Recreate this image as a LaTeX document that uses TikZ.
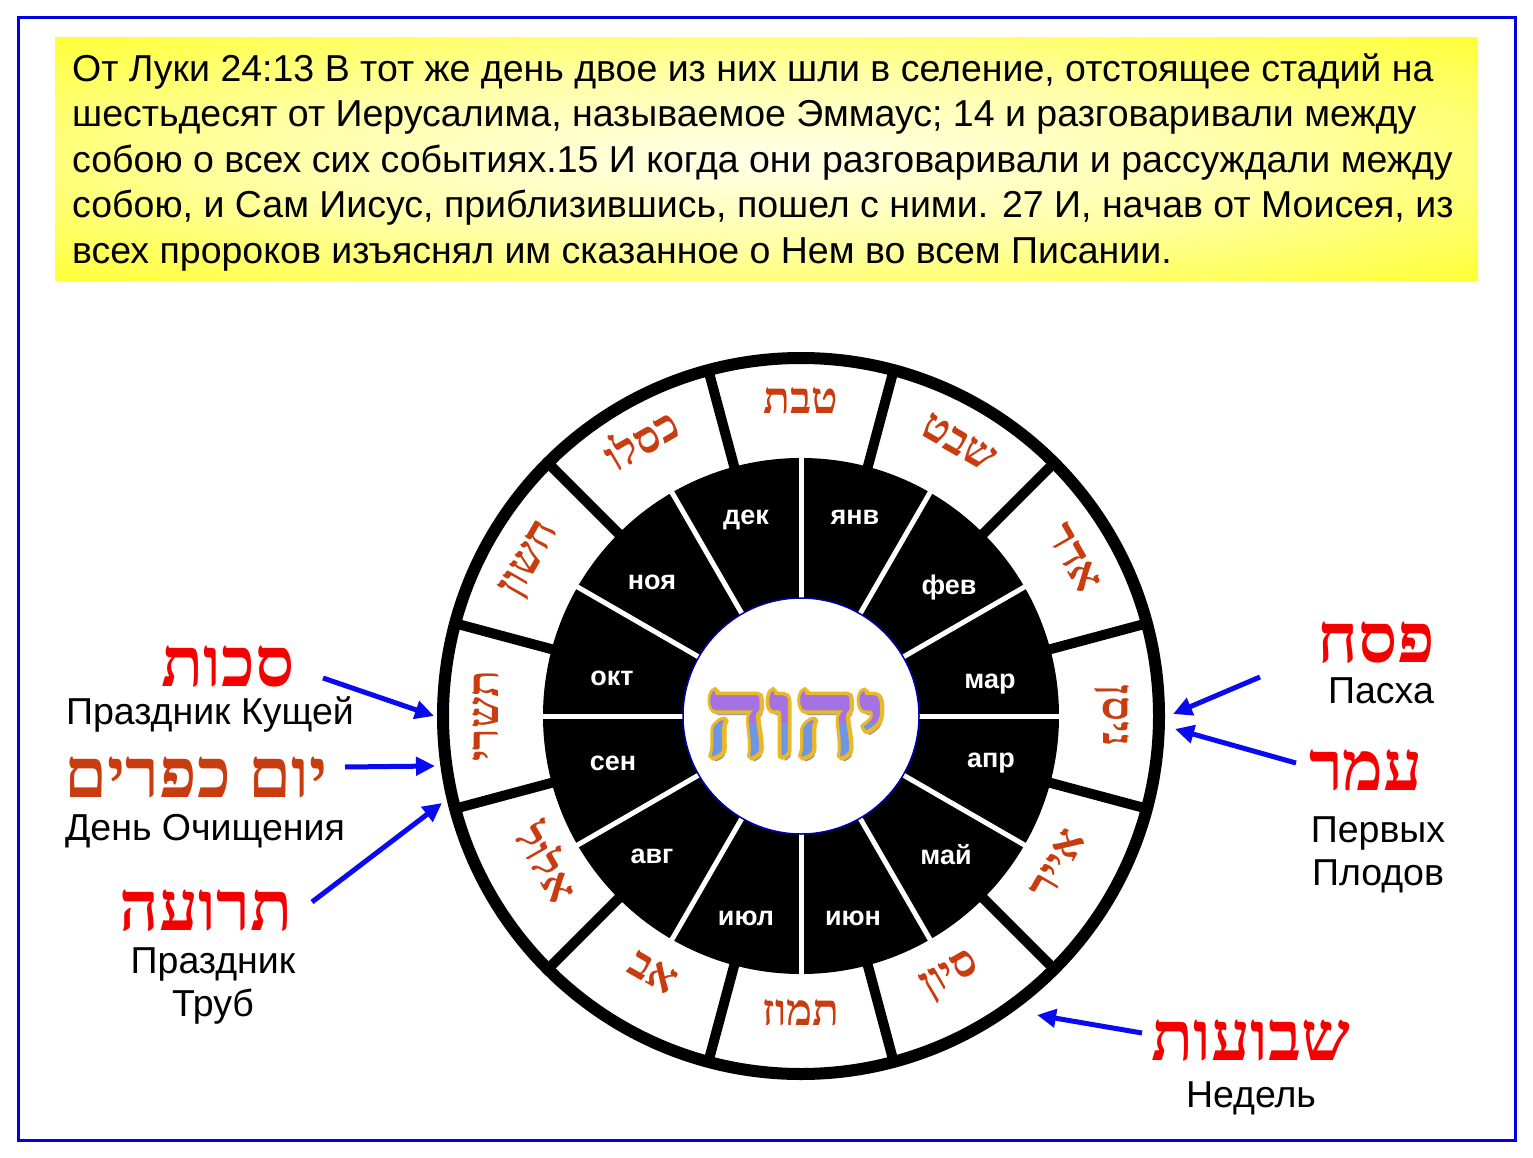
\documentclass[tikz,border=0pt]{standalone}
\usepackage{fontspec}
\setmainfont{Liberation Sans}
\newfontfamily\hebfont[Script=Hebrew]{Liberation Serif}
\newfontfamily\hebfontfat[Script=Hebrew,FakeBold=7]{Liberation Serif}
\usetikzlibrary{arrows.meta}
\TeXXeTstate=1
\definecolor{hebbrown}{RGB}{200,60,15}
\definecolor{hebred}{RGB}{245,0,0}
\definecolor{frameblue}{RGB}{0,0,230}
\definecolor{arrowblue}{RGB}{10,10,240}
\definecolor{goldc}{RGB}{235,185,40}
\definecolor{yhblue}{RGB}{110,150,230}
\definecolor{yhpurple}{RGB}{165,115,225}
\pgfdeclareradialshading{yellowglow}{\pgfpoint{0bp}{0bp}}{color(0bp)=(yellow!8);color(18bp)=(yellow!35);color(44bp)=(yellow);color(55bp)=(yellow)}
\newcommand{\hb}[1]{{\hebfont\bfseries\beginR #1\endR}}
\newcommand{\yhwhtext}{{\hebfont\bfseries\fontsize{108}{108}\selectfont\beginR יהוה\endR}}
\newcommand{\yhwhfat}{{\hebfontfat\bfseries\fontsize{108}{108}\selectfont\beginR יהוה\endR}}
\begin{document}
\begin{tikzpicture}[x=1pt,y=-1pt,
  headline/.style={anchor=base west,inner sep=0pt,font=\fontsize{37.5}{44}\selectfont},
  ruslabel/.style={anchor=base,inner sep=0pt,font=\fontsize{37.5}{44}\selectfont},
  heblabel/.style={anchor=base,inner sep=0pt,font=\fontsize{69}{69}\selectfont,text=hebred},
  monthlabel/.style={text=white,font=\bfseries\fontsize{27}{27}\selectfont,inner sep=0pt,text height=0.52em,text depth=0pt},
  hebmonth/.style={text=hebbrown,font=\fontsize{44}{44}\selectfont,inner sep=0pt,text height=0.62em,text depth=0pt},
  feastarrow/.style={arrowblue,line width=5pt,-{Triangle[length=19pt,width=18pt]}},
  yh/.style={inner sep=0pt}]
\useasboundingbox (0,0) rectangle (1533,1158);
\fill[white] (0,0) rectangle (1533,1158);
\draw[frameblue,line width=3pt] (18,18) rectangle (1515,1140);
\shade[shading=yellowglow] (55,38) rectangle (1478,280);
\node[headline] (l1) at (72,82) {От Луки 24:13 В тот же день двое из них шли в селение, отстоящее стадий на};
\node[headline] (l2) at (72,127) {шестьдесят от Иерусалима, называемое Эммаус; 14 и разговаривали между};
\node[headline] (l3) at (72,173) {собою о всех сих событиях.15 И когда они разговаривали и рассуждали между};
\node[headline] (l4) at (72,218) {собою, и Сам Иисус, приблизившись, пошел с ними. 27 И, начав от Моисея, из};
\node[headline] (l5) at (72,263) {всех пророков изъяснял им сказанное о Нем во всем Писании.};

\begin{scope}[shift={(801,716)},y=1pt]
  \fill[white] (0,0) circle (364);
  \draw[line width=12pt] (0,0) circle (358);
  \fill[black] (0,0) circle (258);
  \foreach \a in {0,30,...,330} \draw[white,line width=5pt] (\a:112) -- (\a:262);
  \draw[fill=white,draw=blue!70!black,line width=1.5pt] (0,0) circle (118);
  \foreach \a in {15,45,...,345} \draw[line width=10pt] (\a:254) -- (\a:356);
  % Hebrew months (upper half)
  \foreach \a/\m [count=\i] in {90/טבת,60/שבט,30/אדר,0/ניסן,180/תשרי,150/חשון,120/כסלו}
    \node[hebmonth,rotate=\a-90] (hu\i) at (\a:306) {\hb{\m}};
  % Hebrew months (lower half)
  \foreach \a/\m [count=\i] in {-30/אייר,-60/סיון,-90/תמוז,-120/אב,-150/אלול}
    \node[hebmonth,rotate=\a+90] (hl\i) at (\a:306) {\hb{\m}};
  % centre name
  \node[yh,text=black!40] (yshadow) at (-2,-13) {\yhwhtext};
  \node[yh,text=goldc] (youtline) at (-5,-8) {\yhwhfat};
  \node[yh,text=yhblue] (ymain) at (-5,-8) {\yhwhtext};
  \begin{scope}
    \clip (-120,-6) rectangle (120,60);
    \node[yh,text=yhpurple] (ytop) at (-5,-8) {\yhwhtext};
  \end{scope}
\end{scope}

% Russian months
\foreach \x/\y/\m [count=\i] in {855/522/янв,949/592/фев,990/686/мар,991/765/апр,946/862/май,853/923/июн,746/923/июл,652/861/авг,613/768/сен,612/683/окт,652/587/ноя,746/522/дек}
  \node[monthlabel] (m\i) at (\x,\y) {\m};

% left feasts
\node[heblabel] (sukkot) at (228,686) {\hb{סכות}};
\node[ruslabel] (sukkotr) at (210,724) {Праздник Кущей};
\node[heblabel,text=hebbrown] (kippur) at (196,797) {\hb{יום כפרים}};
\node[ruslabel] (kippurr) at (205,840) {День Очищения};
\node[heblabel] (teruah) at (206,930) {\hb{תרועה}};
\node[ruslabel] (teruahr1) at (213,973) {Праздник};
\node[ruslabel] (teruahr2) at (213,1016) {Труб};
% right feasts
\node[heblabel] (pesach) at (1376,662) {\hb{פסח}};
\node[ruslabel] (pesachr) at (1381,703) {Пасха};
\node[heblabel] (omer) at (1366,790) {\hb{עמר}};
\node[ruslabel] (omerr1) at (1378,842) {Первых};
\node[ruslabel] (omerr2) at (1378,885) {Плодов};
\node[heblabel] (shavuot) at (1251,1060) {\hb{שבועות}};
\node[ruslabel] (shavuotr) at (1251,1107) {Недель};

% arrows
\coordinate (a1s) at (323,678); \coordinate (a1e) at (434,716);
\coordinate (a2s) at (345,767); \coordinate (a2e) at (435,766);
\coordinate (a3s) at (312,902); \coordinate (a3e) at (442,803);
\coordinate (a4s) at (1260,677); \coordinate (a4e) at (1173,714);
\coordinate (a5s) at (1296,763); \coordinate (a5e) at (1175,729);
\coordinate (a6s) at (1142,1033); \coordinate (a6e) at (1037,1015);
\draw[feastarrow] (a1s) -- (a1e);
\draw[feastarrow] (a2s) -- (a2e);
\draw[feastarrow] (a3s) -- (a3e);
\draw[feastarrow] (a4s) -- (a4e);
\draw[feastarrow] (a5s) -- (a5e);
\draw[feastarrow] (a6s) -- (a6e);
\end{tikzpicture}
\end{document}
